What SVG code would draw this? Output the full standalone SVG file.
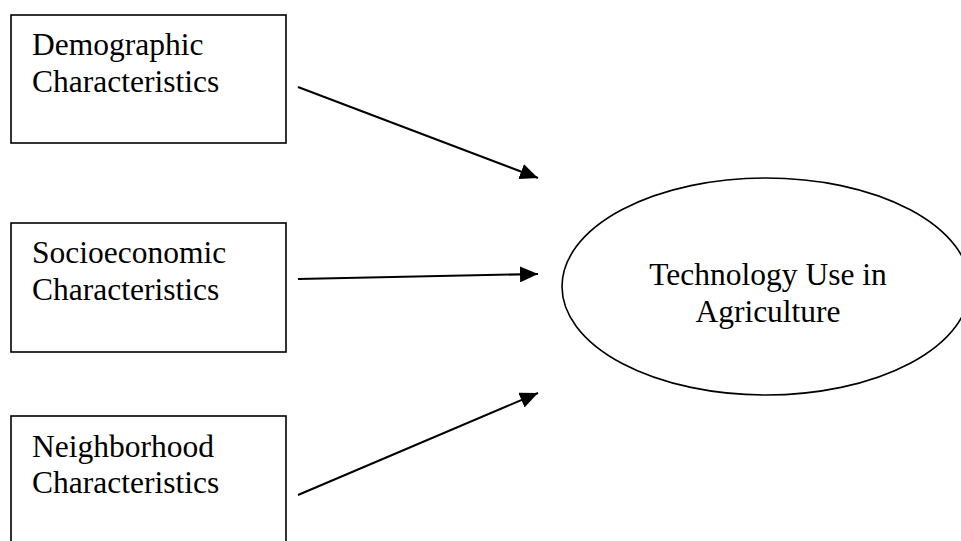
<svg xmlns="http://www.w3.org/2000/svg" width="961" height="541" viewBox="0 0 961 541">
<style>
.box{fill:#fff;stroke:#000;stroke-width:1.6}
.lbl{font-family:"Liberation Serif","Times New Roman",serif;font-size:31.5px;fill:#000}
.conn{stroke:#000;stroke-width:2;fill:none}
</style>
<defs>
<marker id="ah" viewBox="0 0 18 16" refX="18" refY="8" markerWidth="18" markerHeight="16" markerUnits="userSpaceOnUse" orient="auto">
<path d="M0,0 L18,8 L0,16 Z" fill="#000"/>
</marker>
</defs>
<rect width="961" height="541" fill="#fff"/>
<g id="demographic">
<rect class="box" x="11" y="15" width="275" height="128"/>
<text class="lbl" x="32" y="55">Demographic</text>
<text class="lbl" x="32" y="92">Characteristics</text>
</g>
<g id="socioeconomic">
<rect class="box" x="11" y="223" width="275" height="129"/>
<text class="lbl" x="32" y="263">Socioeconomic</text>
<text class="lbl" x="32" y="300">Characteristics</text>
</g>
<g id="neighborhood">
<rect class="box" x="11" y="416" width="275" height="140"/>
<text class="lbl" x="32" y="457">Neighborhood</text>
<text class="lbl" x="32" y="493">Characteristics</text>
</g>
<g id="technology">
<ellipse cx="766" cy="286.5" rx="204" ry="108.5" fill="#fff" stroke="#000" stroke-width="1.6"/>
<text class="lbl" x="768" y="285" text-anchor="middle">Technology Use in</text>
<text class="lbl" x="768" y="322" text-anchor="middle">Agriculture</text>
</g>
<g id="connectors">
<line class="conn" x1="298" y1="87" x2="538" y2="178" marker-end="url(#ah)"/>
<line class="conn" x1="298" y1="279" x2="538" y2="274" marker-end="url(#ah)"/>
<line class="conn" x1="298" y1="495" x2="538" y2="393" marker-end="url(#ah)"/>
</g>
</svg>
